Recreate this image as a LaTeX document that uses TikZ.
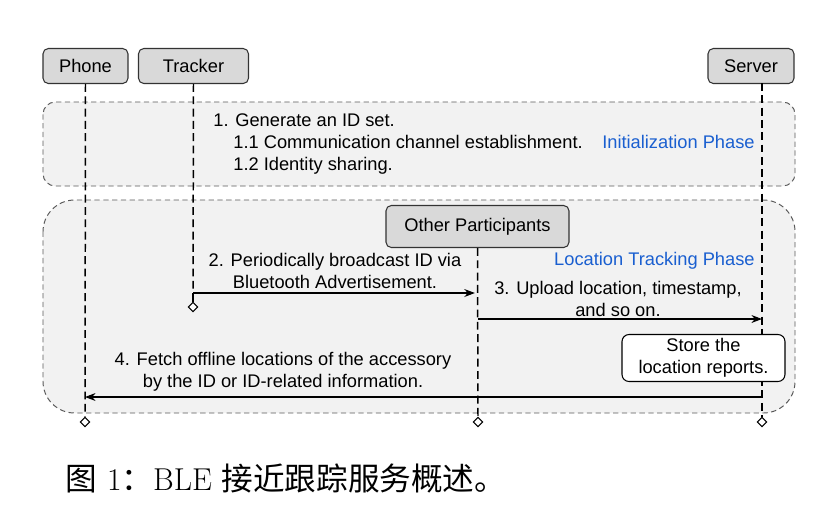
\documentclass[tikz,border=0pt]{standalone}
\usepackage{fontspec}
\newfontfamily\arialfont{Liberation Sans}
\newfontfamily\cjk{Noto Sans CJK SC}
\usetikzlibrary{arrows.meta,shapes.geometric}
\definecolor{phasefill}{HTML}{F2F2F2}
\definecolor{actorfill}{HTML}{D9D9D9}
\definecolor{phaseblue}{HTML}{1A5FD0}
\tikzset{
  actor/.style={draw=black!80, fill=actorfill, rounded corners=3pt, line width=0.6pt, minimum height=0.7cm, inner sep=0pt},
  phase/.style={draw=black!65, dashed, dash pattern=on 3pt off 2pt, fill=phasefill, line width=0.55pt},
  lifeline/.style={line width=0.85pt, dash pattern=on 4.5pt off 2.5pt},
  lifeend/.style={diamond, draw, fill=white, line width=0.6pt, inner sep=0pt, minimum size=5.5pt},
  msg/.style={line width=0.6pt, -{Stealth[length=6pt,width=4.5pt]}},
  phasename/.style={text=phaseblue, inner sep=0pt},
  steptext/.style={inner sep=0pt},
}

\begin{document}
\begin{tikzpicture}[x=0.02cm, y=-0.02cm, font=\arialfont\fontsize{10.4}{12.5}\selectfont]
  \useasboundingbox (0,0) rectangle (832,529);

  % phases
  \draw [phase, rounded corners=7pt] (43,102) rectangle (795,186);
  \draw [phase, rounded corners=18pt] (43,200) rectangle (795,413);

  % participants
  \node [actor, minimum width=1.70cm] (phone) at (85.5,66) {Phone};
  \node [actor, minimum width=2.20cm] (tracker) at (193.5,66) {Tracker};
  \node [actor, minimum width=1.72cm] (server) at (751,66) {Server};
  \node [actor, minimum width=3.66cm, minimum height=0.84cm] (others) at (477.5,226.5) {Other Participants};

  % lifeline ends
  \coordinate (servertop) at (762,83);
  \node [lifeend] (phoneend) at (85,422) {};
  \node [lifeend] (trackerend) at (193,307) {};
  \node [lifeend] (othersend) at (478,422) {};
  \node [lifeend] (serverend) at (762,422) {};
  \coordinate (bcast) at (193,293);

  \draw [lifeline] (phone.south) -- (phoneend.north);
  \draw [lifeline] (tracker.south) -- (bcast);
  \draw [line width=0.6pt] (bcast) -- (trackerend.north);
  \draw [lifeline] (others.south) -- (othersend.north);
  \draw [lifeline] (servertop) -- (serverend.north);

  % initialization phase
  \node [steptext, anchor=base west] (step1) at (213,126) {1. Generate an ID set.};
  \node [steptext, anchor=base west] (step11) at (233,148) {1.1 Communication channel establishment.};
  \node [steptext, anchor=base west] (step12) at (233,170) {1.2 Identity sharing.};
  \node [phasename, anchor=base east] (initphase) at (755,148) {Initialization Phase};

  % location tracking phase
  \node [phasename, anchor=base east] (trackphase) at (755,265) {Location Tracking Phase};
  \node [align=center] (step2) at (335,271) {2. Periodically broadcast ID via\\Bluetooth Advertisement.};
  \node [align=center] (step3) at (618,299) {3. Upload location, timestamp,\\and so on.};
  \node [align=center] (step4) at (283,372) {4. Fetch offline locations of the accessory\\by the ID or ID-related information.};
  \node [draw, rounded corners=4pt, fill=white, line width=0.6pt, align=center,
         minimum width=3.26cm, minimum height=0.94cm, inner sep=1pt] (store) at (703.5,358) {Store the\\location reports.};

  \coordinate (othersin) at (others.south |- bcast);
  \coordinate (uploadfrom) at (478,319);
  \coordinate (uploadto) at (762,319);
  \coordinate (fetchfrom) at (762,397);
  \coordinate (fetchto) at (85,397);
  \draw [msg] (bcast) -- ([xshift=-1.5pt]othersin);
  \draw [msg] (uploadfrom) -- (uploadto);
  \draw [msg] (fetchfrom) -- (fetchto);

  % caption
  \node [anchor=base, font=\fontsize{18}{21}\selectfont] (caption) at (286,490) {{\cjk 图}~1{\cjk ：}BLE {\cjk 接近跟踪服务概述。}};
\end{tikzpicture}
\end{document}
